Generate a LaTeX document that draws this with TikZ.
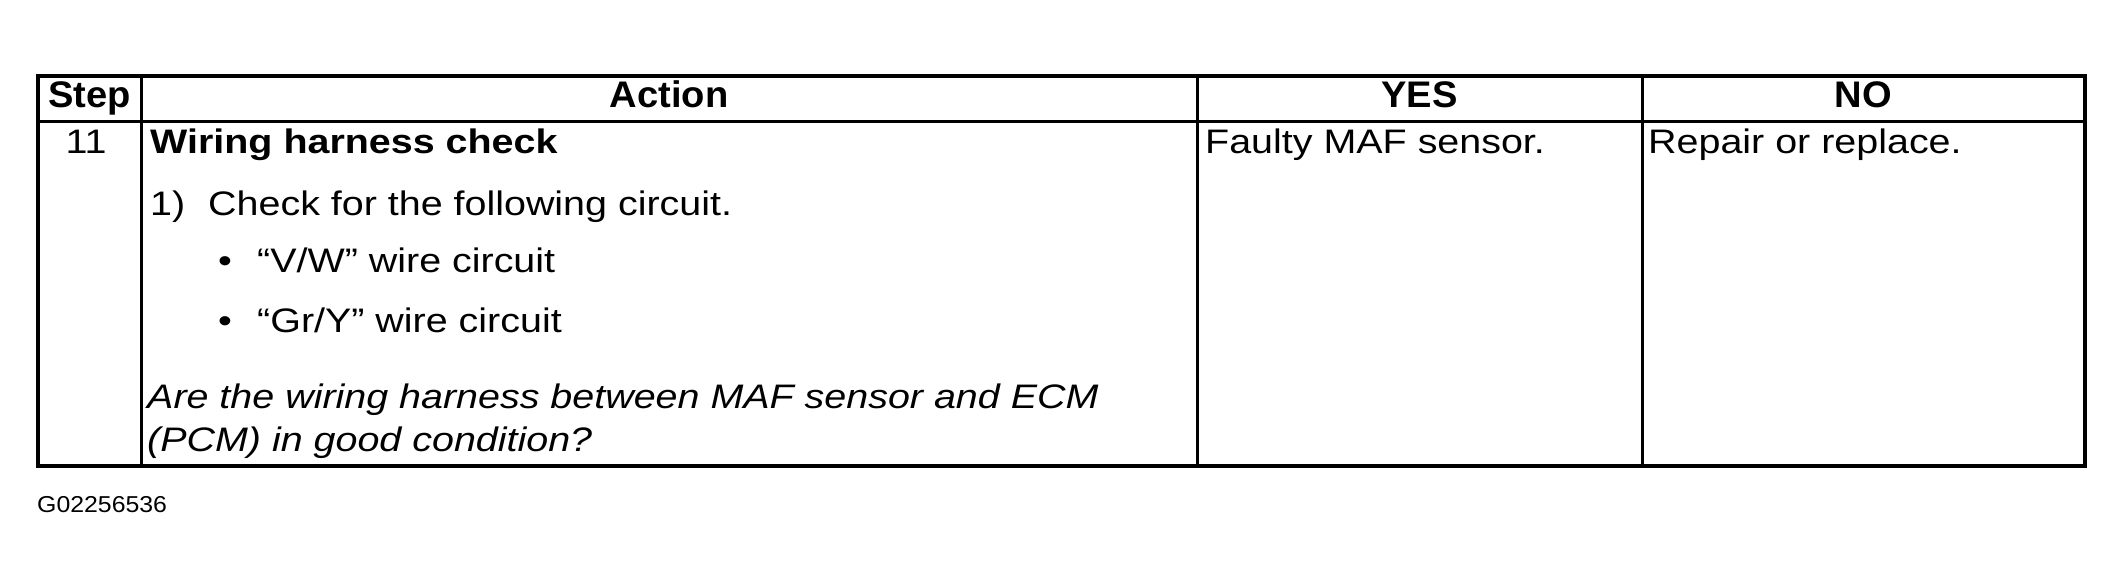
\documentclass[tikz,border=0pt]{standalone}
\usepackage{fontspec}
\setmainfont{Liberation Sans}[FakeStretch=1.16]
\newfontfamily\headfont{Liberation Sans}[FakeStretch=1.03]
\newfontfamily\idfont{Liberation Sans}[FakeStretch=1.08]
\usepackage{tikz}
\def\bodysize{\fontsize{34}{40}\selectfont}

\begin{document}
\begin{tikzpicture}[x=1pt, y=-1pt,
		cell/.style={inner sep=0pt, anchor=base west, font=\bodysize},
		head/.style={inner sep=0pt, anchor=base, font=\headfont\bfseries\fontsize{37}{44}\selectfont},
		rule/.style={line width=3pt}]
			%%%%% START %%%%%
			
			\useasboundingbox (0, 0) rectangle (2124, 588);
			
			\draw[line width=4pt] (38, 76) rectangle (2085, 466);
			\draw[rule] (38, 122) -- (2085, 122);
			\draw[rule] (141, 76) -- (141, 466);
			\draw[rule] (1197, 76) -- (1197, 466);
			\draw[rule] (1642, 76) -- (1642, 466);
			
			\node[head] (hstep) at (89.5, 108) {Step};
			\node[head] (haction) at (669, 108) {Action};
			\node[head] (hyes) at (1419.5, 108) {YES};
			\node[head] (hno) at (1863.5, 108) {NO};
			
			\node[cell, anchor=base] (stepno) at (86, 154) {11};
			
			\node[cell, font=\bodysize\bfseries] (title) at (150, 154) {Wiring harness check};
			\node[cell] (num) at (150, 215) {1)};
			\node[cell] (check) at (208, 215) {Check for the following circuit.};
			\node[cell] (dota) at (218, 272) {•};
			\node[cell] (wirea) at (257, 272) {“V/W” wire circuit};
			\node[cell] (dotb) at (218, 332) {•};
			\node[cell] (wireb) at (257, 332) {“Gr/Y” wire circuit};
			\node[cell, font=\bodysize\itshape] (aska) at (147, 408) {Are the wiring harness between MAF sensor and ECM};
			\node[cell, font=\bodysize\itshape] (askb) at (147, 451) {(PCM) in good condition?};
			
			\node[cell] (yes) at (1205, 154) {Faulty MAF sensor.};
			\node[cell] (no) at (1648, 154) {Repair or replace.};
			
			\node[inner sep=0pt, anchor=base west, font=\idfont\fontsize{23}{28}\selectfont] (figid) at (37, 512) {G02256536};
			
			%%%%% END %%%%%
		\end{tikzpicture}
\end{document}
